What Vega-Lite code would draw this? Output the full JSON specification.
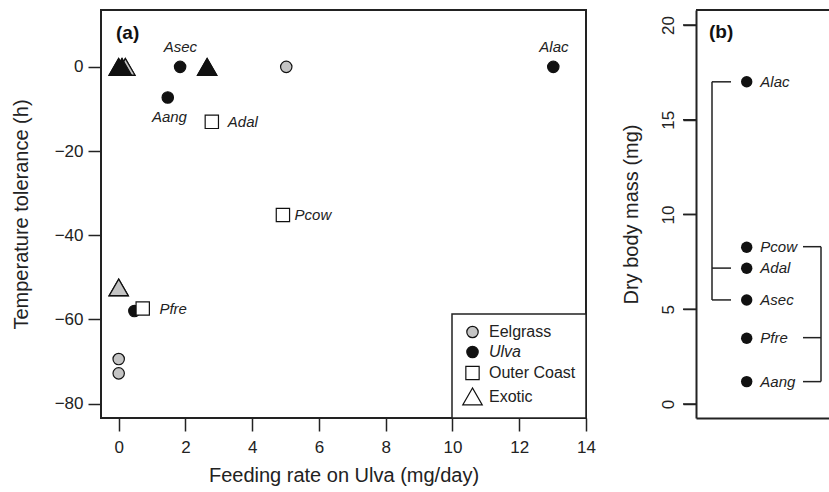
{
  "$schema": "https://vega.github.io/schema/vega-lite/v6.json",
  "padding": {"left": 10, "top": 9, "right": 0, "bottom": 0},
  "spacing": 110,
  "bounds": "flush",
  "resolve": {
    "scale": {"shape": "independent", "fill": "independent", "size": "independent", "stroke": "independent"},
    "legend": {"shape": "independent", "fill": "independent", "size": "independent", "stroke": "independent"}
  },
  "datasets": {
    "pts": [
      {"sp": "", "cat": "Eelgrass", "tfill": "#c4c4c4", "rate": 0, "tol": -69.4},
      {"sp": "", "cat": "Eelgrass", "tfill": "#c4c4c4", "rate": 0, "tol": -72.8},
      {"sp": "", "cat": "Eelgrass", "tfill": "#c4c4c4", "rate": 5.02, "tol": 0},
      {"sp": "Asec", "cat": "Ulva", "tfill": "#111111", "rate": 1.84, "tol": 0},
      {"sp": "Aang", "cat": "Ulva", "tfill": "#111111", "rate": 1.47, "tol": -7.27},
      {"sp": "Alac", "cat": "Ulva", "tfill": "#111111", "rate": 13.02, "tol": 0},
      {"sp": "", "cat": "Ulva", "tfill": "#111111", "rate": 0.47, "tol": -58.0},
      {"sp": "Adal", "cat": "Outer Coast", "tfill": "white", "rate": 2.79, "tol": -13.06},
      {"sp": "Pcow", "cat": "Outer Coast", "tfill": "white", "rate": 4.92, "tol": -35.2},
      {"sp": "Pfre", "cat": "Outer Coast", "tfill": "white", "rate": 0.72, "tol": -57.4},
      {"sp": "", "cat": "Exotic", "tfill": "#c4c4c4", "rate": 0.2, "tol": 0},
      {"sp": "", "cat": "Exotic", "tfill": "#111111", "rate": 0.0, "tol": 0},
      {"sp": "", "cat": "Exotic", "tfill": "#111111", "rate": 0.1, "tol": 0},
      {"sp": "", "cat": "Exotic", "tfill": "#111111", "rate": 2.65, "tol": 0},
      {"sp": "", "cat": "Exotic", "tfill": "#c4c4c4", "rate": 0.0, "tol": -52.4}
    ],
    "labA": [
      {"t": "Asec", "pos": "c", "x": 1.85, "y": 4.6},
      {"t": "Aang", "pos": "c", "x": 1.52, "y": -12.0},
      {"t": "Alac", "pos": "c", "x": 13.04, "y": 4.75},
      {"t": "Adal", "pos": "l", "x": 3.27, "y": -13.06},
      {"t": "Pcow", "pos": "l", "x": 5.27, "y": -35.2},
      {"t": "Pfre", "pos": "l", "x": 1.22, "y": -57.4}
    ],
    "mass": [
      {"sp": "Alac", "bx": 5.07, "lx": 6.43, "mass": 17.0},
      {"sp": "Pcow", "bx": 5.07, "lx": 6.43, "mass": 8.27},
      {"sp": "Adal", "bx": 5.07, "lx": 6.43, "mass": 7.16},
      {"sp": "Asec", "bx": 5.07, "lx": 6.43, "mass": 5.49},
      {"sp": "Pfre", "bx": 5.07, "lx": 6.43, "mass": 3.47},
      {"sp": "Aang", "bx": 5.07, "lx": 6.43, "mass": 1.18}
    ],
    "tree": [
      {"x1": 1.6, "x2": 1.6, "y1": 17.0, "y2": 5.49},
      {"x1": 1.6, "x2": 3.5, "y1": 17.0, "y2": 17.0},
      {"x1": 1.6, "x2": 3.5, "y1": 7.17, "y2": 7.17},
      {"x1": 1.6, "x2": 3.5, "y1": 5.49, "y2": 5.49},
      {"x1": 12.5, "x2": 12.5, "y1": 8.3, "y2": 1.18},
      {"x1": 10.7, "x2": 12.5, "y1": 8.3, "y2": 8.3},
      {"x1": 10.7, "x2": 12.5, "y1": 3.5, "y2": 3.5},
      {"x1": 10.7, "x2": 12.5, "y1": 1.18, "y2": 1.18}
    ],
    "frame": [
      {"x1": 0, "x2": 13.4, "y1": 20.79}
    ],
    "bticks": [{"v": 0}, {"v": 5}, {"v": 10}, {"v": 15}, {"v": 20}],
    "panels": [{"a": "(a)", "b": "(b)", "ax": -0.08, "ay": 8.0, "bx": 1.3, "by": 19.65}]
  },
  "hconcat": [
    {
      "width": 485,
      "height": 408,
      "view": {"stroke": "#222222", "strokeWidth": 2},
      "layer": [
        {
          "data": {"name": "pts"},
          "mark": {"type": "point", "filled": true, "opacity": 1, "strokeWidth": 1.2},
          "encoding": {
            "x": {"field": "rate", "type": "quantitative", "scale": {"domain": [-0.53, 14], "nice": false, "zero": false},
              "axis": {"values": [0, 2, 4, 6, 8, 10, 12, 14], "title": "Feeding rate on Ulva (mg/day)", "labelFlush": false, "labelPadding": 8, "titlePadding": 10}},
            "y": {"field": "tol", "type": "quantitative", "scale": {"domain": [-83.4, 13.5], "nice": false, "zero": false},
              "axis": {"values": [-80, -60, -40, -20, 0], "title": "Temperature tolerance (h)", "labelAngle": 0, "labelPadding": 5, "titlePadding": 23}},
            "shape": {"field": "cat", "type": "nominal",
              "scale": {"domain": ["Eelgrass", "Ulva", "Outer Coast", "Exotic"], "range": ["circle", "circle", "square", "triangle-up"]},
              "legend": {"orient": "bottom-right", "offset": 0, "title": null, "padding": 10, "strokeColor": "#222222", "fillColor": "white", "labelFontSize": 16, "labelOffset": 6, "rowPadding": 2, "labelFontStyle": {"expr": "datum.label == 'Ulva' ? 'italic' : 'normal'"}}},
            "fill": {"field": "cat", "type": "nominal",
              "scale": {"domain": ["Eelgrass", "Ulva", "Outer Coast", "Exotic"], "range": ["#c4c4c4", "#111111", "white", "white"]},
              "legend": {"orient": "bottom-right", "offset": 0, "title": null, "padding": 10, "strokeColor": "#222222", "fillColor": "white", "labelFontSize": 16, "labelOffset": 6, "rowPadding": 2, "labelFontStyle": {"expr": "datum.label == 'Ulva' ? 'italic' : 'normal'"}}},
            "stroke": {"field": "cat", "type": "nominal",
              "scale": {"domain": ["Eelgrass", "Ulva", "Outer Coast", "Exotic"], "range": ["#111111", "#111111", "#111111", "#111111"]},
              "legend": {"orient": "bottom-right", "offset": 0, "title": null, "padding": 10, "strokeColor": "#222222", "fillColor": "white", "labelFontSize": 16, "labelOffset": 6, "rowPadding": 2, "labelFontStyle": {"expr": "datum.label == 'Ulva' ? 'italic' : 'normal'"}}},
            "size": {"field": "cat", "type": "nominal",
              "scale": {"type": "ordinal", "domain": ["Eelgrass", "Ulva", "Outer Coast", "Exotic"], "range": [130, 130, 177, 380]},
              "legend": {"orient": "bottom-right", "offset": 0, "title": null, "padding": 10, "strokeColor": "#222222", "fillColor": "white", "labelFontSize": 16, "labelOffset": 6, "rowPadding": 2, "labelFontStyle": {"expr": "datum.label == 'Ulva' ? 'italic' : 'normal'"}}}
          }
        },
        {
          "data": {"name": "pts"},
          "transform": [{"filter": "datum.cat == 'Exotic'"}],
          "mark": {"type": "point", "filled": true, "opacity": 1, "stroke": "#111111", "strokeWidth": 1.2, "shape": "triangle-up", "size": 361},
          "encoding": {
            "x": {"field": "rate", "type": "quantitative"},
            "y": {"field": "tol", "type": "quantitative"},
            "fill": {"field": "tfill", "type": "nominal", "scale": null}
          }
        },
        {
          "data": {"name": "labA"},
          "transform": [{"filter": "datum.pos == 'c'"}],
          "mark": {"type": "text", "align": "center", "baseline": "middle", "fontStyle": "italic", "fontSize": 15, "color": "#222222"},
          "encoding": {
            "x": {"field": "x", "type": "quantitative"},
            "y": {"field": "y", "type": "quantitative"},
            "text": {"field": "t"}
          }
        },
        {
          "data": {"name": "labA"},
          "transform": [{"filter": "datum.pos == 'l'"}],
          "mark": {"type": "text", "align": "left", "baseline": "middle", "fontStyle": "italic", "fontSize": 15, "color": "#222222"},
          "encoding": {
            "x": {"field": "x", "type": "quantitative"},
            "y": {"field": "y", "type": "quantitative"},
            "text": {"field": "t"}
          }
        },
        {
          "data": {"name": "panels"},
          "mark": {"type": "text", "align": "left", "baseline": "middle", "fontWeight": "bold", "fontSize": 19, "color": "#111111"},
          "encoding": {
            "x": {"field": "ax", "type": "quantitative"},
            "y": {"field": "ay", "type": "quantitative"},
            "text": {"field": "a"}
          }
        }
      ]
    },
    {
      "width": 134,
      "height": 408,
      "encoding": {
        "y": {"type": "quantitative", "scale": {"domain": [-0.74, 20.79], "nice": false, "zero": false},
          "axis": {"values": [0, 5, 10, 15, 20], "title": "Dry body mass (mg)", "labelAngle": -90, "labelPadding": 6, "titlePadding": 18, "domain": true, "ticks": true, "tickSize": 13, "tickColor": "#222222", "tickWidth": 1.5}}
      },
      "layer": [
        {
          "data": {"name": "tree"},
          "mark": {"type": "rule", "color": "#222222", "strokeWidth": 1.5},
          "encoding": {
            "x": {"field": "x1", "type": "quantitative", "scale": {"domain": [0, 13.4], "nice": false, "zero": false},
              "axis": {"orient": "bottom", "labels": false, "ticks": false, "title": null, "domain": true, "grid": false}},
            "x2": {"field": "x2"},
            "y": {"field": "y1"},
            "y2": {"field": "y2"}
          }
        },
        {
          "data": {"name": "frame"},
          "mark": {"type": "rule", "color": "#222222", "strokeWidth": 2},
          "encoding": {
            "x": {"field": "x1", "type": "quantitative"},
            "x2": {"field": "x2"},
            "y": {"field": "y1"}
          }
        },
        {
          "data": {"name": "bticks"},
          "mark": {"type": "rule", "color": "#222222", "strokeWidth": 1.5},
          "encoding": {
            "x": {"datum": -1.3, "type": "quantitative"},
            "x2": {"datum": 0},
            "y": {"field": "v"}
          }
        },
        {
          "data": {"name": "mass"},
          "mark": {"type": "point", "filled": true, "opacity": 1, "color": "#111111", "size": 130, "shape": "circle"},
          "encoding": {
            "x": {"field": "bx", "type": "quantitative"},
            "y": {"field": "mass"}
          }
        },
        {
          "data": {"name": "mass"},
          "mark": {"type": "text", "align": "left", "baseline": "middle", "fontStyle": "italic", "fontSize": 15, "color": "#222222"},
          "encoding": {
            "x": {"field": "lx", "type": "quantitative"},
            "y": {"field": "mass"},
            "text": {"field": "sp"}
          }
        },
        {
          "data": {"name": "panels"},
          "mark": {"type": "text", "align": "left", "baseline": "middle", "fontWeight": "bold", "fontSize": 19, "color": "#111111"},
          "encoding": {
            "x": {"field": "bx", "type": "quantitative"},
            "y": {"field": "by"},
            "text": {"field": "b"}
          }
        }
      ]
    }
  ],
  "config": {
    "font": "Liberation Sans",
    "view": {"stroke": null},
    "axis": {
      "grid": false,
      "domain": false,
      "domainColor": "#222222",
      "domainWidth": 2,
      "tickColor": "#222222",
      "tickWidth": 1.5,
      "tickSize": 13,
      "labelFont": "Liberation Sans",
      "labelFontSize": 17,
      "labelColor": "#222222",
      "titleFont": "Liberation Sans",
      "titleFontSize": 20,
      "titleFontWeight": "normal",
      "titleColor": "#222222"
    },
    "legend": {"strokeWidth": 1.5, "labelFont": "Liberation Sans", "labelColor": "#222222", "symbolStrokeWidth": 1.2}
  }
}
